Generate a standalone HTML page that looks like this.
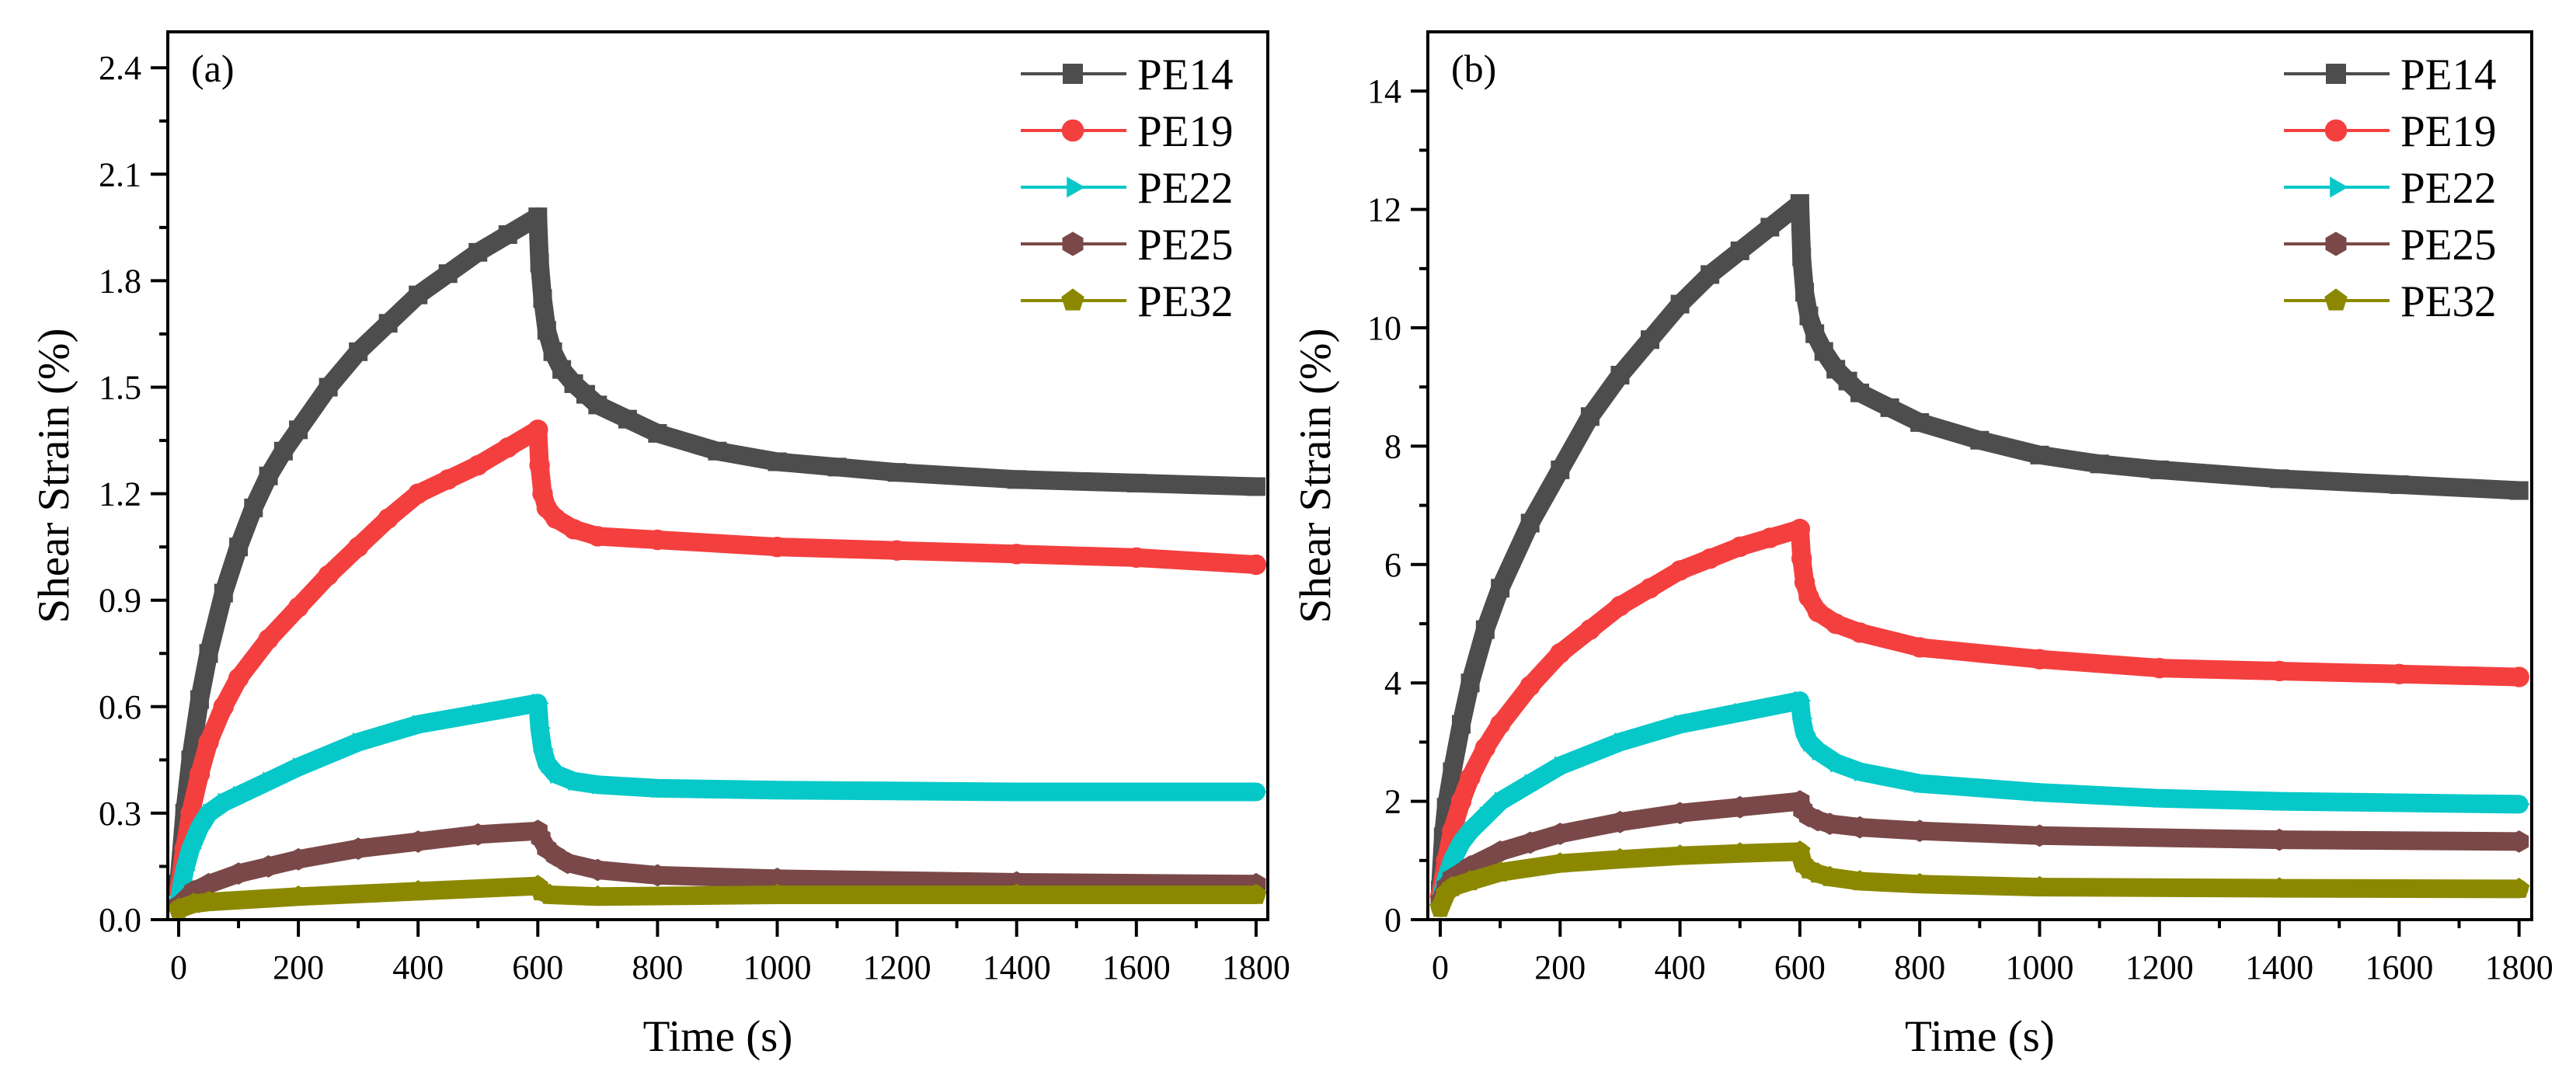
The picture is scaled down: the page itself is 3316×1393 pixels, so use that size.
<!DOCTYPE html>
<html><head><meta charset="utf-8"><style>
html,body{margin:0;padding:0;background:#fff;}
svg{display:block;font-family:"Liberation Serif",serif;}
</style></head><body>
<svg id="fig" width="3316" height="1393" viewBox="0 0 3316 1393" xmlns="http://www.w3.org/2000/svg"></svg>
<script>
const seriesNames = ["PE14","PE19","PE22","PE25","PE32"];
const seriesColors = ["#4d4d4d","#f43f3f","#06c8c8","#7a4848","#8b8800"];
const markerShapes = ["square","circle","triangle","hexagon","pentagon"];
const xTicks = [0,200,400,600,800,1000,1200,1400,1600,1800];
const yTicksA = [0.0,0.3,0.6,0.9,1.2,1.5,1.8,2.1,2.4];
const yLabelsA = ["0.0","0.3","0.6","0.9","1.2","1.5","1.8","2.1","2.4"];
const yTicksB = [0,2,4,6,8,10,12,14];
const yLabelsB = ["0","2","4","6","8","10","12","14"];

const tA14 = [0,10,20,35,50,75,100,125,150,175,200,250,300,350,400,450,500,550,600,603,608,615,625,640,660,680,700,750,800,900,1000,1100,1200,1400,1600,1800];
const vA14 = [0.1,0.3,0.45,0.62,0.75,0.92,1.05,1.16,1.25,1.32,1.38,1.5,1.6,1.68,1.76,1.82,1.88,1.93,1.98,1.85,1.75,1.66,1.6,1.55,1.51,1.48,1.45,1.41,1.37,1.32,1.29,1.275,1.26,1.24,1.23,1.22];
const tA19 = [0,10,20,35,50,75,100,150,200,250,300,350,400,450,500,550,600,603,608,615,630,660,700,800,1000,1200,1400,1600,1800];
const vA19 = [0.08,0.2,0.3,0.41,0.5,0.6,0.68,0.79,0.88,0.97,1.05,1.13,1.2,1.24,1.28,1.33,1.38,1.28,1.2,1.16,1.13,1.1,1.08,1.07,1.05,1.04,1.03,1.02,1.0];
const tA22 = [0,10,20,35,50,75,100,150,200,300,400,500,600,603,608,615,630,660,700,800,1000,1400,1800];
const vA22 = [0.05,0.14,0.2,0.26,0.3,0.33,0.35,0.39,0.43,0.5,0.55,0.58,0.61,0.54,0.48,0.44,0.41,0.39,0.38,0.37,0.365,0.36,0.36];
const tA25 = [0,25,50,100,150,200,300,400,500,600,605,615,630,650,700,800,1000,1400,1800];
const vA25 = [0.04,0.08,0.1,0.13,0.15,0.17,0.2,0.22,0.24,0.25,0.23,0.2,0.18,0.16,0.14,0.125,0.115,0.105,0.1];
const tA32 = [0,25,50,200,400,600,605,620,700,1000,1400,1800];
const vA32 = [0.03,0.045,0.05,0.065,0.08,0.095,0.08,0.07,0.065,0.07,0.07,0.07];

const tB14 = [0,5,10,20,35,50,75,100,150,200,250,300,350,400,450,500,550,600,603,608,615,625,640,660,680,700,750,800,900,1000,1100,1200,1400,1600,1800];
const vB14 = [0.5,1.4,1.9,2.5,3.3,4,4.9,5.6,6.7,7.6,8.5,9.2,9.8,10.4,10.9,11.3,11.7,12.1,11.2,10.6,10.2,9.9,9.6,9.3,9.1,8.9,8.65,8.4,8.1,7.85,7.7,7.6,7.45,7.35,7.25];
const tB19 = [0,10,20,35,50,75,100,150,200,250,300,350,400,450,500,550,600,603,608,615,630,660,700,800,1000,1200,1400,1600,1800];
const vB19 = [0.4,1.0,1.5,2.0,2.4,2.9,3.3,3.95,4.5,4.9,5.3,5.6,5.9,6.1,6.3,6.45,6.6,6.1,5.7,5.45,5.2,5.0,4.85,4.6,4.4,4.25,4.2,4.15,4.1];
const tB22 = [0,10,20,35,50,75,100,150,200,300,400,500,600,603,608,615,630,660,700,800,1000,1200,1400,1800];
const vB22 = [0.3,0.7,1.0,1.3,1.5,1.75,2.0,2.3,2.6,3.0,3.3,3.5,3.7,3.4,3.15,3.0,2.85,2.65,2.5,2.3,2.15,2.05,2.0,1.95];
const tB25 = [0,10,20,50,100,150,200,300,400,500,600,605,615,630,650,700,800,1000,1400,1800];
const vB25 = [0.3,0.55,0.7,0.9,1.15,1.3,1.45,1.65,1.8,1.9,2.0,1.85,1.75,1.68,1.62,1.56,1.5,1.42,1.35,1.32];
const tB32 = [0,10,20,50,100,200,300,400,500,600,605,615,630,650,700,800,1000,1400,1800];
const vB32 = [0.2,0.45,0.55,0.65,0.8,0.95,1.02,1.08,1.12,1.15,0.95,0.85,0.78,0.72,0.65,0.6,0.55,0.53,0.52];

const NS="http://www.w3.org/2000/svg";
const svg=document.getElementById('fig');
function mk(tag,attrs,parent){const e=document.createElementNS(NS,tag);for(const k in attrs)e.setAttribute(k,attrs[k]);(parent||svg).appendChild(e);return e;}

function marker(g,shape,x,y,r,color){
  let e;
  if(shape==="square"){e=mk('rect',{x:x-r,y:y-r,width:2*r,height:2*r,fill:color},g);}
  else if(shape==="circle"){e=mk('circle',{cx:x,cy:y,r:r*1.1,fill:color},g);}
  else{
    let n=shape==="triangle"?3:shape==="hexagon"?6:5;
    let a0=shape==="triangle"?0:-Math.PI/2;
    let pts=[];for(let i=0;i<n;i++){let a=a0+i*2*Math.PI/n;pts.push((x+r*1.2*Math.cos(a)).toFixed(1)+","+(y+r*1.2*Math.sin(a)).toFixed(1));}
    e=mk('polygon',{points:pts.join(" "),fill:color},g);
  }
  return e;
}

function panel(cfg){
  const {L,R,T,B,x0px,xPer,y0px,yPer,yStep,xmin,xmax,yTicks,yLabels,data,label,legX,titleX,id}=cfg;
  const xs=v=>x0px+v*xPer;
  const ys=v=>y0px-v*yPer;
  const g=mk('g',{});
  
  
  const clipId='clip'+id;
  const cp=mk('clipPath',{id:clipId},g);
  mk('rect',{x:L,y:T,width:R-L,height:B-T},cp);
  const plot=mk('g',{'clip-path':'url(#'+clipId+')'},g);
  data.forEach((d,i)=>{
    const sg=mk('g',{},plot);
    
    
    const pts=d[0].map((t,j)=>xs(t).toFixed(1)+","+ys(d[1][j]).toFixed(1)).join(" ");
    mk('polyline',{points:pts,fill:'none',stroke:seriesColors[i],'stroke-width':24,'stroke-linejoin':'round','stroke-linecap':'round'},sg);
    d[0].forEach((t,j)=>{
      const m=marker(sg,markerShapes[i],xs(t),ys(d[1][j]),12,seriesColors[i]);
      
      
    });
  });
  const fr=mk('rect',{x:L,y:T,width:R-L,height:B-T,fill:'none',stroke:'#000','stroke-width':4},g);
  
  
  const xa=mk('g',{},g);
  
  
  xTicks.forEach(v=>{
    const x=xs(v);
    mk('line',{x1:x,y1:B,x2:x,y2:B+22,stroke:'#000','stroke-width':4},xa);
    const mx=xs(v+100);
    if(v+100<=xmax) mk('line',{x1:mx,y1:B,x2:mx,y2:B+11,stroke:'#000','stroke-width':4},xa);
    const t=mk('text',{x:x,y:B+76,'text-anchor':'middle','font-size':44},xa);
    t.textContent=String(v);
    
    
  });
  const ya=mk('g',{},g);
  
  
  yTicks.forEach((v,k)=>{
    const y=ys(v);
    mk('line',{x1:L-22,y1:y,x2:L,y2:y,stroke:'#000','stroke-width':4},ya);
    const my=ys(v+yStep/2);
    if(my>T) mk('line',{x1:L-11,y1:my,x2:L,y2:my,stroke:'#000','stroke-width':4},ya);
    const t=mk('text',{x:L-34,y:y+15,'text-anchor':'end','font-size':44},ya);
    t.textContent=yLabels[k];
    
    
  });
  const xt=mk('text',{x:(L+R)/2,y:1353,'text-anchor':'middle','font-size':57},g);
  xt.textContent="Time (s)";
  
  
  const yt=mk('text',{x:0,y:0,'text-anchor':'middle','font-size':57,transform:'translate('+titleX+','+((T+B)/2)+') rotate(-90)'},g);
  yt.textContent="Shear Strain (%)";
  
  
  const pl=mk('text',{x:L+30,y:105,'font-size':50},g);
  pl.textContent=label;
  
  
  const lg=mk('g',{},g);
  
  
  seriesNames.forEach((n,i)=>{
    const y=95+i*73;
    const e=mk('g',{},lg);
    
    
    mk('line',{x1:legX,y1:y,x2:legX+136,y2:y,stroke:seriesColors[i],'stroke-width':4},e);
    marker(e,markerShapes[i],legX+67,y,13,seriesColors[i]);
    const t=mk('text',{x:legX+150,y:y+20,'font-size':57},e);
    t.textContent=n;
  });
}

panel({id:'panel-a',L:216,R:1632,T:41,B:1184,x0px:230,xPer:154.1/200,y0px:1184,yPer:137.1/0.3,yStep:0.3,xmin:-18,xmax:1819,
  yTicks:yTicksA,yLabels:yLabelsA,label:"(a)",legX:1314,titleX:88,
  data:[[tA14,vA14],[tA19,vA19],[tA22,vA22],[tA25,vA25],[tA32,vA32]]});
panel({id:'panel-b',L:1838,R:3259,T:41,B:1184,x0px:1854,xPer:154.3/200,y0px:1184,yPer:152.4/2,yStep:2,xmin:-21,xmax:1821,
  yTicks:yTicksB,yLabels:yLabelsB,label:"(b)",legX:2940,titleX:1712,
  data:[[tB14,vB14],[tB19,vB19],[tB22,vB22],[tB25,vB25],[tB32,vB32]]});
</script>
</body></html>
